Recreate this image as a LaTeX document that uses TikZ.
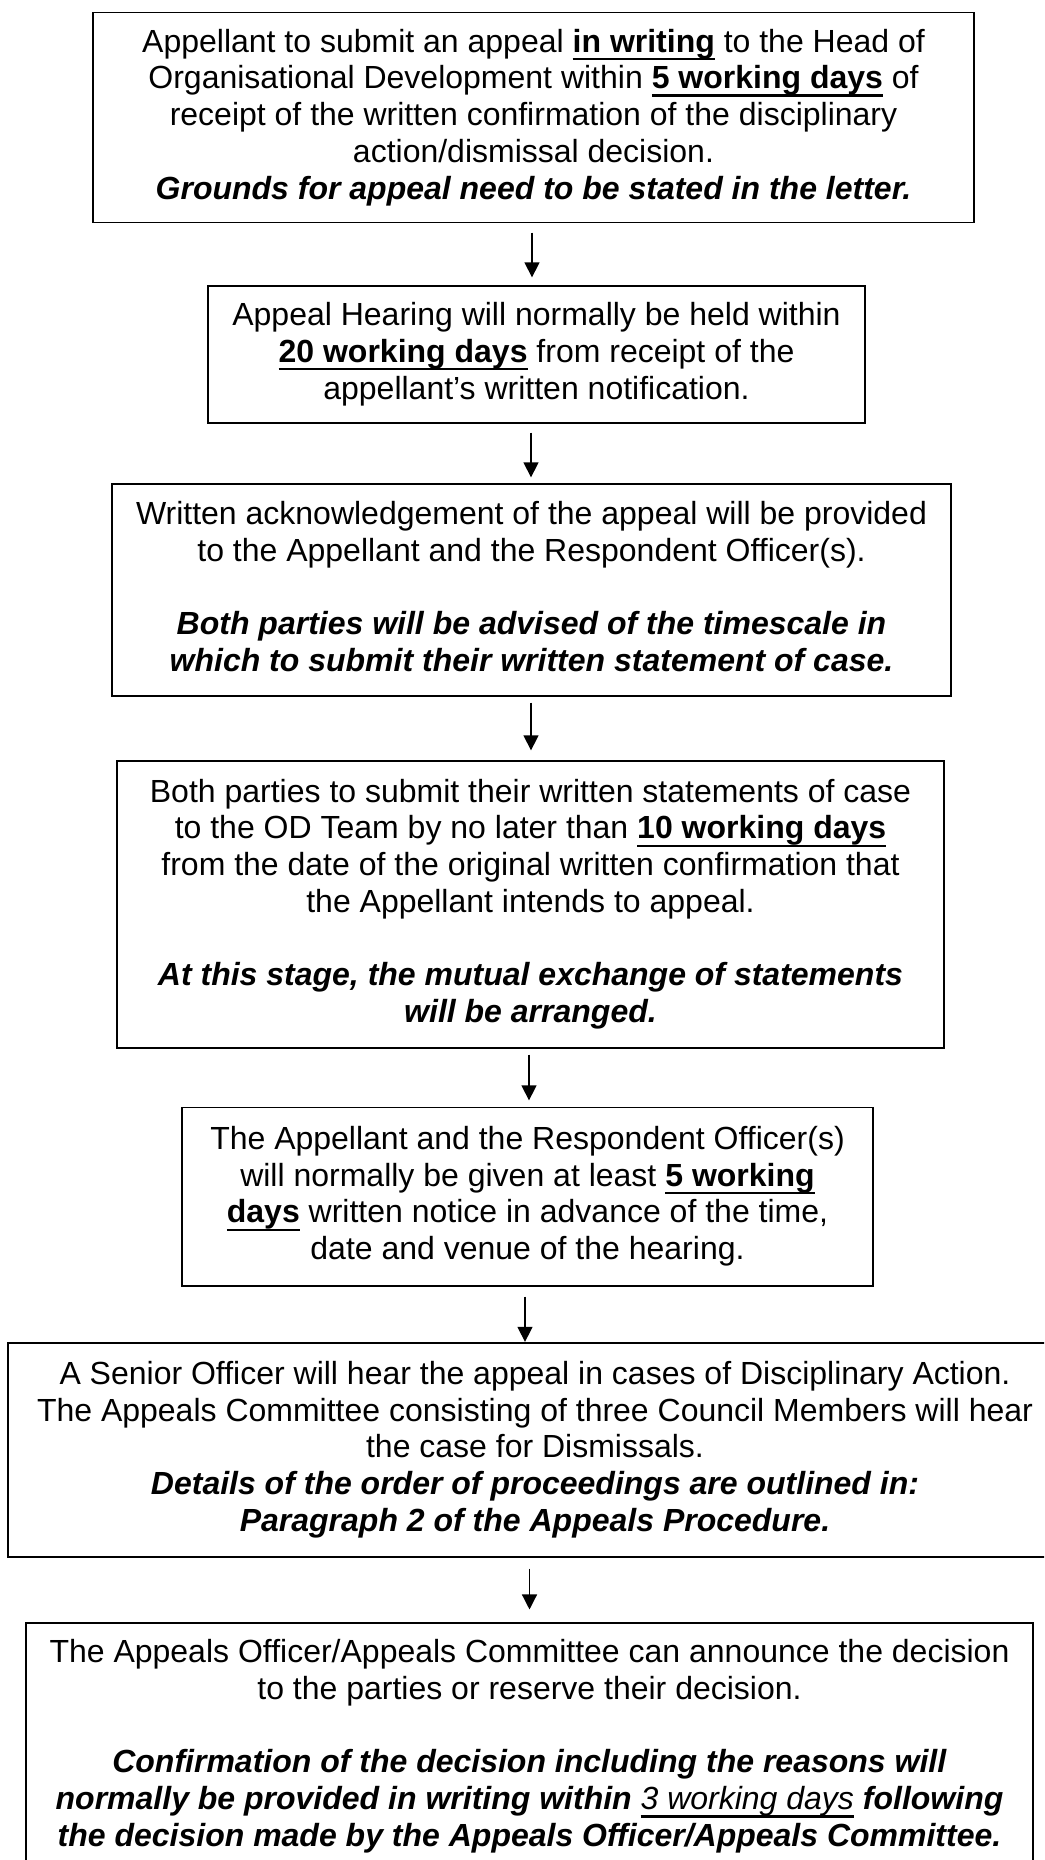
\documentclass[tikz,border=0pt]{standalone}
\usepackage{fontspec}
\setmainfont{Liberation Sans}
\usetikzlibrary{arrows.meta}
\newsavebox\myulbox
\newcommand{\myul}[1]{\sbox\myulbox{#1}\rlap{\rule[-8pt]{\wd\myulbox}{2.3pt}}\usebox\myulbox}
\newcommand{\ulb}[1]{\myul{\textbf{#1}}}
\newcommand{\bi}[1]{\textbf{\textit{#1}}}
\newcommand{\st}{\vrule height 24pt depth 8.4pt width 0pt}
\tikzset{
  flowbox/.style={draw=black, line width=1.3pt, inner sep=0pt, align=center,
    font=\fontsize{32}{36.75}\selectfont},
  arr/.style={line width=1.3pt, -{Triangle[length=15pt,width=15pt]}}
}
\begin{document}
\begin{tikzpicture}[x=1pt,y=-1pt]
\useasboundingbox (0,0) rectangle (1044,1860);
\clip (0,0) rectangle (1044,1860);
\fill[white] (0,0) rectangle (1044,1860);

\node[flowbox, minimum width=881pt, minimum height=210pt] (b1) at (533.5,117.7)
{\st Appellant to submit an appeal \ulb{in writing} to the Head of\\
 \st Organisational Development within \ulb{5 working days} of\\
 \st receipt of the written confirmation of the disciplinary\\
 \st action/dismissal decision.\\
 \st\bi{Grounds for appeal need to be stated in the letter.}};

\node[flowbox, minimum width=657pt, minimum height=137pt] (b2) at (536.5,354.5)
{\st Appeal Hearing will normally be held within\\
 \st\ulb{20 working days} from receipt of the\\
 \st appellant’s written notification.};

\node[flowbox, minimum width=839pt, minimum height=212pt] (b3) at (531.5,590)
{\st Written acknowledgement of the appeal will be provided\\
 \st to the Appellant and the Respondent Officer(s).\\
 \st\\
 \st\bi{Both parties will be advised of the timescale in}\\
 \st\bi{which to submit their written statement of case.}};

\node[flowbox, minimum width=827pt, minimum height=287pt] (b4) at (530.5,904.5)
{\st Both parties to submit their written statements of case\\
 \st to the OD Team by no later than \ulb{10 working days}\\
 \st from the date of the original written confirmation that\\
 \st the Appellant intends to appeal.\\
 \st\\
 \st\bi{At this stage, the mutual exchange of statements}\\
 \st\bi{will be arranged.}};

\node[flowbox, minimum width=691pt, minimum height=178.5pt] (b5) at (527.5,1196.75)
{\st The Appellant and the Respondent Officer(s)\\
 \st will normally be given at least \ulb{5 working}\\
 \st\ulb{days} written notice in advance of the time,\\
 \st date and venue of the hearing.};

\node[flowbox, minimum width=1054pt, minimum height=214pt] (b6) at (535,1450)
{\st A Senior Officer will hear the appeal in cases of Disciplinary Action.\\
 \st The Appeals Committee consisting of three Council Members will hear\\
 \st the case for Dismissals.\\
 \st\bi{Details of the order of proceedings are outlined in:}\\
 \st\bi{Paragraph 2 of the Appeals Procedure.}};

\node[flowbox, minimum width=1007pt, minimum height=247pt] (b7) at (529.5,1746.6)
{\st The Appeals Officer/Appeals Committee can announce the decision\\
 \st to the parties or reserve their decision.\\
 \st\\
 \st\bi{Confirmation of the decision including the reasons will}\\
 \st\bi{normally be provided in writing within} \myul{\textit{3 working days}} \bi{following}\\
 \st\bi{the decision made by the Appeals Officer/Appeals Committee.}};

\draw[arr, shorten <=9.3pt, shorten >=8pt] ([xshift=-1.5pt]b1.south) -- ([xshift=-4.5pt]b2.north);
\draw[arr, shorten <=9pt, shorten >=6pt] ([xshift=-5.5pt]b2.south) -- ([xshift=-0.5pt]b3.north);
\draw[arr, shorten <=6pt, shorten >=10pt] ([xshift=-0.5pt]b3.south) -- ([xshift=0.5pt]b4.north);
\draw[arr, shorten <=6pt, shorten >=6.5pt] ([xshift=-1.5pt]b4.south) -- ([xshift=1.5pt]b5.north);
\draw[arr, shorten <=10pt, shorten >=0.5pt] ([xshift=-2.5pt]b5.south) -- ([xshift=-10pt]b6.north);
\draw[arr, shorten <=11pt, shorten >=13pt] ([xshift=-5.5pt]b6.south) -- ([xshift=0pt]b7.north);
\end{tikzpicture}
\end{document}
